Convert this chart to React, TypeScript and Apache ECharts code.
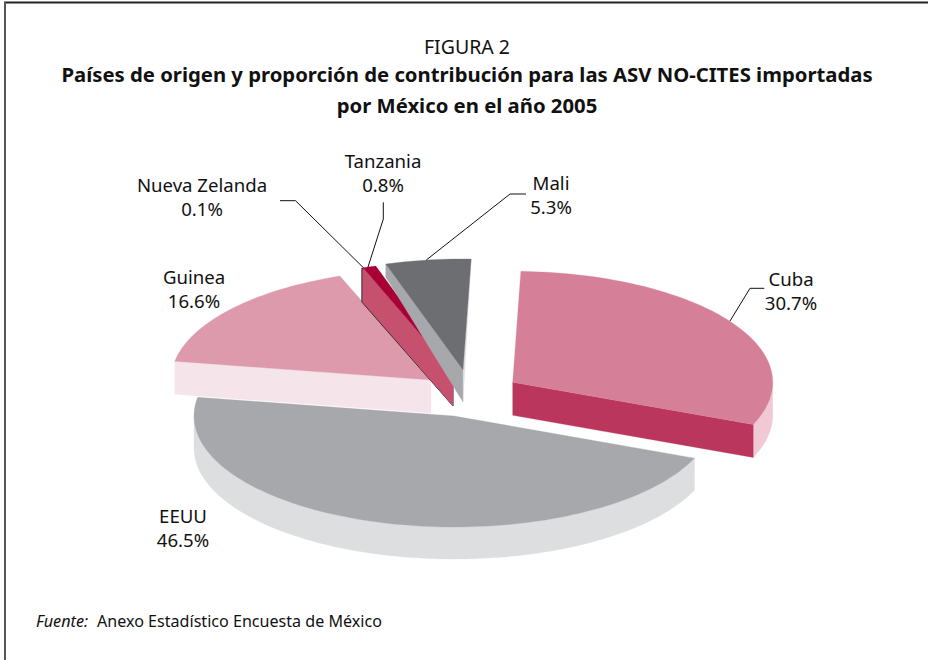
import React, { useEffect, useRef } from "react";
import * as echarts from "echarts";

const categories = ["Cuba", "EEUU", "Guinea", "Nueva Zelanda", "Tanzania", "Mali"];
const shares = [30.7, 46.5, 16.6, 0.1, 0.8, 5.3];

const topColors = ["#d67f98", "#a7a8ab", "#dd9aad", "#8a0030", "#a80036", "#6d6e71"];
const rimColors = ["#f0c9d4", "#dddee0", "#f6e4eb", "#c5516f", "#c5516f", "#dddee0"];
const startFaceColors = ["#ba365c", "#a7a8ab", "#f6e4eb", "#c5516f", "#c5516f", "#a7a8ab"];
const endFaceColors = ["#ba365c", "#a7a8ab", "#f6e4eb", "#c5516f", "#c5516f", "#dddee0"];

// Each slice is pulled out of the pie on its own, hence its own apex.
const apexX = [512.7, 454, 431, 453, 453, 463];
const apexY = [382.3, 416, 380, 372, 372, 370];
const depths = [33, 32, 33, 34, 34, 32];
const startOuterDepths = [33, 32, 33, 34, 34, 13];
const endOuterDepths = [33, 32, 33, 34, 34, 0];
const outlined = [false, false, false, true, false, false];

const RX = 260;
const RY = 111;
const FIRST_ANGLE = 88.2;

const labelX = [791, 183, 194, 202, 383, 551];
const labelY = [278, 515, 276, 184, 160, 182];
const LINE_GAP = 24;

const leaders = [
  [[764.3, 288.3], [750, 288.3], [730, 321]],
  [[280, 200.7], [295.5, 200.7], [363.7, 268]],
  [[383.3, 202.3], [383.3, 219], [368, 267]],
  [[526, 194], [510, 194], [426.3, 260]],
];

const FONT = '"Noto Sans", sans-serif';
const total = shares.reduce((a, b) => a + b, 0);

function sliceStart(index: number) {
  let start = FIRST_ANGLE;
  for (let i = 0; i < index; i++) start -= (shares[i] / total) * 360;
  return start;
}

function App() {
  const ref = useRef<HTMLDivElement>(null);
  useEffect(() => {
    const chart = echarts.init(ref.current!, undefined, { renderer: "svg" });

    const renderItem = (params: any, api: any) => {
      const i = params.dataIndex;
      const value = api.value(0);
      const start = sliceStart(i);
      const end = start - (value / total) * 360;
      const cx = apexX[i];
      const cy = apexY[i];
      const at = (deg: number, dy = 0): number[] => {
        const r = (deg * Math.PI) / 180;
        return [cx + RX * Math.cos(r), cy - RY * Math.sin(r) + dy];
      };
      const arc = (from: number, to: number, dy = 0) => {
        const n = Math.max(2, Math.ceil(Math.abs(to - from) / 1.5));
        const pts: number[][] = [];
        for (let k = 0; k <= n; k++) pts.push(at(from + ((to - from) * k) / n, dy));
        return pts;
      };
      const depth = depths[i];
      const children: any[] = [];
      const poly = (points: number[][], fill: string) =>
        children.push({
          type: "polygon",
          shape: { points },
          style: { fill, stroke: fill, lineWidth: 0.3 },
        });
      const isFront = (d: number) => Math.sin((d * Math.PI) / 180) < 0;

      // Rim: the part of the outer edge that faces the viewer.
      const lo = Math.max(end, -180);
      const hi = Math.min(start, 0);
      if (lo < hi) poly([...arc(hi, lo), ...arc(lo, hi, depth)], rimColors[i]);

      // Straight cut faces, only when they turn towards the viewer.
      if (isFront(start + 90)) {
        const outer = at(start);
        const face = [[cx, cy], outer, at(start, startOuterDepths[i]), [cx, cy + depth]];
        poly(face, startFaceColors[i]);
        if (outlined[i]) {
          children.push({
            type: "polyline",
            shape: { points: [outer, face[2], face[3], [cx, cy]] },
            style: { fill: "none", stroke: "#2a2a2a", lineWidth: 0.9 },
          });
        }
      }
      if (isFront(end - 90)) {
        poly(
          [[cx, cy], at(end), at(end, endOuterDepths[i]), [cx, cy + depth]],
          endFaceColors[i]
        );
      }

      // Top surface.
      poly([[cx, cy], ...arc(start, end)], topColors[i]);

      return { type: "group", children, silent: true };
    };

    const line = (x1: number, y1: number, x2: number, y2: number, stroke: string, lineWidth: number) => ({
      type: "line",
      shape: { x1, y1, x2, y2 },
      style: { stroke, lineWidth },
      silent: true,
    });
    const text = (x: number, y: number, t: string, size: number, extra: any = {}) => ({
      type: "text",
      x,
      y,
      silent: true,
      style: {
        text: t,
        fontFamily: FONT,
        fontSize: size,
        fill: "#111",
        align: "center",
        verticalAlign: "middle",
        ...extra,
      },
    });

    chart.setOption({
      animation: false,
      backgroundColor: "#fff",
      series: [
        {
          type: "custom",
          coordinateSystem: "none",
          renderItem,
          silent: true,
          data: shares.map((v, i) => ({ name: categories[i], value: [v] })),
        },
      ],
      graphic: [
        line(4, 2.5, 928, 2.5, "#222", 2),
        line(5, 2, 5, 660, "#555", 2),
        text(467, 46.5, "FIGURA 2", 19.5),
        text(467, 74, "Países de origen y proporción de contribución para las ASV NO-CITES importadas", 20.3, { fontWeight: "bold" }),
        text(467, 104.5, "por México en el año 2005", 20.3, { fontWeight: "bold" }),
        ...categories.flatMap((c, i) => [
          text(labelX[i], labelY[i], c, 18.6),
          text(labelX[i], labelY[i] + LINE_GAP, `${shares[i].toFixed(1)}%`, 18.6),
        ]),
        ...leaders.map((points) => ({
          type: "polyline",
          shape: { points },
          style: { fill: "none", stroke: "#111", lineWidth: 1 },
          silent: true,
          z: 10,
        })),
        {
          type: "text",
          x: 36,
          y: 620.5,
          silent: true,
          style: {
            text: "Fuente:",
            fontFamily: FONT,
            fontStyle: "italic",
            fontSize: 16.2,
            fill: "#111",
            verticalAlign: "middle",
          },
        },
        {
          type: "text",
          x: 97,
          y: 620.5,
          silent: true,
          style: {
            text: "Anexo Estadístico Encuesta de México",
            fontFamily: FONT,
            fontSize: 16.1,
            fill: "#111",
            verticalAlign: "middle",
          },
        },
      ],
    });
    return () => chart.dispose();
  }, []);
  return <div ref={ref} style={{ position: "absolute", left: 0, top: 0, width: 928, height: 660 }} />;
}

export default App;
